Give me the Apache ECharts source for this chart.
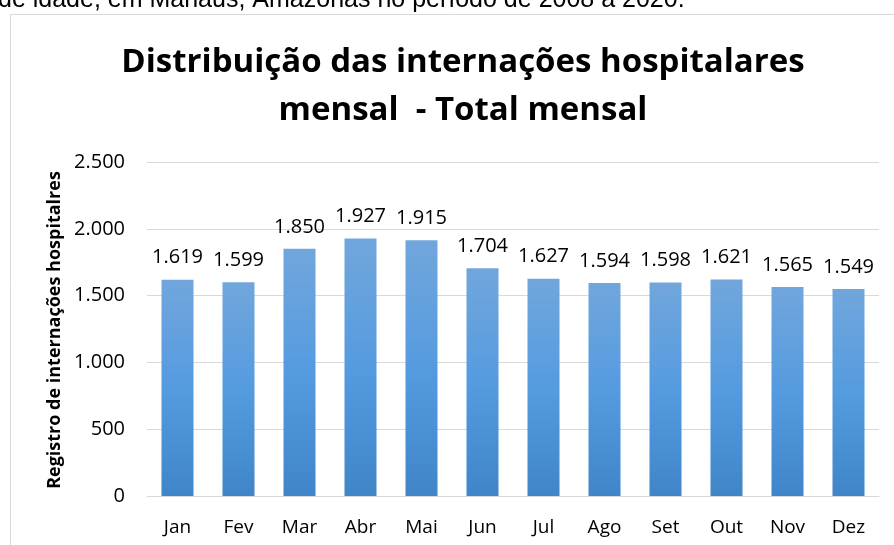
<!DOCTYPE html>
<html>
<head>
<meta charset="utf-8">
<script src="https://cdn.jsdelivr.net/npm/echarts@6/dist/echarts.min.js"></script>
<style>
  html, body { margin: 0; padding: 0; background: #fff; }
  #chart { width: 894px; height: 545px; }
</style>
</head>
<body>
<div id="chart"></div>
<script>
const months = ['Jan', 'Fev', 'Mar', 'Abr', 'Mai', 'Jun', 'Jul', 'Ago', 'Set', 'Out', 'Nov', 'Dez']
const internacoes = [1619, 1599, 1850, 1927, 1915, 1704, 1627, 1594, 1598, 1621, 1565, 1549]
const yTicks = [0, 500, 1000, 1500, 2000, 2500]

// formato brasileiro: 1.619
const fmt = v => String(v).replace(/\B(?=(\d{3})+(?!\d))/g, '.')

const chart = echarts.init(document.getElementById('chart'))

chart.setOption({
  backgroundColor: '#fff',
  animation: false,
  graphic: [
    // legenda cortada acima do gráfico
    {
      type: 'text',
      x: -2,
      y: -12,
      style: {
        text: 'de idade, em Manaus, Amazonas no período de 2008 a 2020.',
        font: '25px "Liberation Sans", Arial, sans-serif',
        fill: '#000'
      }
    },
    // moldura do gráfico
    {
      type: 'rect',
      shape: { x: 10.5, y: 14.5, width: 900, height: 560 },
      style: { fill: 'none', stroke: '#d9d9d9', lineWidth: 1 }
    },
    {
      type: 'text',
      rotation: Math.PI / 2,
      x: 55,
      y: 330,
      style: {
        text: 'Registro de internações hospitalres',
        font: 'bold 18px "Open Sans", sans-serif',
        fill: '#000',
        align: 'center',
        verticalAlign: 'middle'
      }
    }
  ],
  title: {
    text: 'Distribuição das internações hospitalares\nmensal  - Total mensal',
    left: 458,
    top: 34,
    textAlign: 'center',
    textStyle: {
      fontFamily: '"Open Sans", sans-serif',
      fontWeight: 'bold',
      fontSize: 33,
      lineHeight: 48,
      color: '#000'
    }
  },
  grid: {
    left: 147,
    right: 15,
    top: 162,
    bottom: 49,
    containLabel: false
  },
  xAxis: {
    type: 'category',
    data: months,
    axisLine: { lineStyle: { color: '#d9d9d9', width: 1 } },
    axisTick: { show: false },
    axisLabel: {
      color: '#000',
      fontSize: 19,
      fontFamily: '"Open Sans", sans-serif',
      margin: 22
    }
  },
  yAxis: {
    type: 'value',
    min: yTicks[0],
    max: yTicks[yTicks.length - 1],
    interval: yTicks[1] - yTicks[0],
    axisLine: { show: false },
    axisTick: { show: false },
    splitLine: { lineStyle: { color: '#d9d9d9', width: 1 } },
    axisLabel: {
      color: '#000',
      fontSize: 20,
      fontFamily: '"Open Sans", sans-serif',
      margin: 22,
      formatter: fmt
    }
  },
  series: [{
    type: 'bar',
    data: internacoes,
    barWidth: 32,
    itemStyle: {
      color: new echarts.graphic.LinearGradient(0, 0, 0, 1, [
        { offset: 0, color: '#71a6dc' },
        { offset: 0.5, color: '#559be0' },
        { offset: 1, color: '#3f85c8' }
      ])
    },
    label: {
      show: true,
      position: 'top',
      distance: 12,
      color: '#000',
      fontSize: 20,
      fontFamily: '"Open Sans", sans-serif',
      formatter: p => fmt(p.value)
    }
  }]
})
</script>
</body>
</html>
